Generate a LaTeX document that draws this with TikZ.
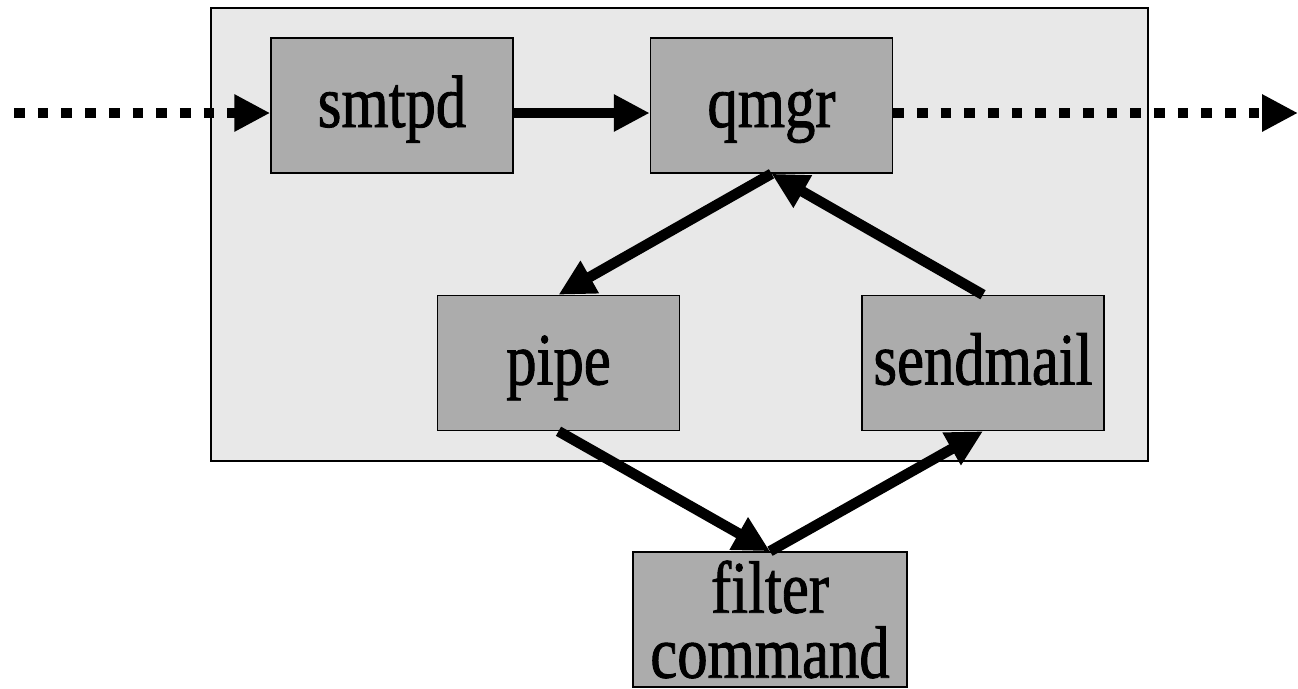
\documentclass[tikz,border=0pt]{standalone}
\usepackage{fontspec}
\setmainfont{Liberation Serif}[FakeStretch=0.82, FakeBold=1.2]
\usetikzlibrary{arrows.meta,positioning}
\definecolor{boxgray}{RGB}{172,172,172}
\definecolor{panelgray}{RGB}{232,232,232}

\begin{document}
\begin{tikzpicture}[x=1pt, y=-1pt,
  proc/.style={draw, line width=1.5pt, fill=boxgray, minimum width=242pt,
    minimum height=135pt, inner sep=0pt, font=\fontsize{74}{65}\selectfont},
  oneline/.style={text height=50pt, text depth=7pt},
  flow/.style={line width=10.5pt, -{Triangle[length=36pt,width=35pt]}},
  dotflow/.style={flow, dash pattern=on 10.7pt off 13pt}]
  \useasboundingbox (0,0) rectangle (1298,688);
  \draw [line width=2pt, fill=panelgray] (211,8) rectangle (1148,461);
  \node [proc, oneline] (smtpd) at (392,105.5) {smtpd};
  \node [proc, oneline, right=136pt of smtpd] (qmgr) {qmgr};
  \node [proc, oneline] (pipe) at (558.5,363) {pipe};
  \node [proc, oneline, right=181pt of pipe] (sendmail) {sendmail};
  \node [proc, minimum width=274pt, align=center] (filter) at (770,619.5) {filter\\command};
  \coordinate (in) at (14,113);
  \coordinate (out) at (1298,113);
  \draw [dotflow] (in) -- (smtpd.west |- in);
  \draw [flow] (smtpd.east |- in) -- (qmgr.west |- in);
  \draw [dotflow] (qmgr.east |- in) -- (out);
  \draw [flow] (qmgr.south) -- (pipe.north);
  \draw [flow] (sendmail.north) -- (qmgr.south);
  \draw [flow] (pipe.south) -- (filter.north);
  \draw [flow] (filter.north) -- (sendmail.south);
\end{tikzpicture}
\end{document}
